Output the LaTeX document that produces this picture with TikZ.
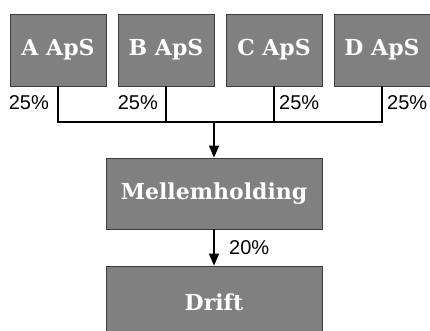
\documentclass[tikz,border=0pt]{standalone}
\usepackage{fontspec}
\newfontfamily\boxfont{DejaVu Serif}
\newfontfamily\labfont{Liberation Sans}
\usetikzlibrary{arrows.meta}
\definecolor{boxgray}{RGB}{128,128,128}
\definecolor{boxedge}{RGB}{60,60,60}
\tikzset{
  entity/.style={draw=boxedge, line width=0.8pt, fill=boxgray, text=white,
    minimum width=96pt, minimum height=72pt, inner sep=0pt,
    font=\boxfont\bfseries\fontsize{22}{26}\selectfont},
  wide/.style={entity, minimum width=216pt},
  link/.style={line width=1.5pt, black},
  pct/.style={inner sep=0pt, font=\labfont\fontsize{20}{24}\selectfont}
}
\begin{document}
\begin{tikzpicture}[x=1pt,y=1pt]
\useasboundingbox (0,0) rectangle (430,-331);
\node[entity] (A) at (58,-50) {A ApS};
\node[entity] (B) at (166,-50) {B ApS};
\node[entity] (C) at (274,-50) {C ApS};
\node[entity] (D) at (382,-50) {D ApS};
\node[wide, minimum height=71pt] (M) at (214,-193.5) {Mellemholding};
\node[wide] (R) at (214,-302) {Drift};
\coordinate (j) at (214,-122);
\draw[link] (A.south) |- (j);
\draw[link] (D.south) |- (j);
\draw[link] (B.south) -- (B.south |- j);
\draw[link] (C.south) -- (C.south |- j);
\draw[link, -{Triangle[length=12pt,width=10pt]}] (j) -- (M.north);
\draw[link, -{Triangle[length=12pt,width=10pt]}] (M.south) -- (R.north);
\node[pct, anchor=east] (la) at (49,-103) {25\%};
\node[pct, anchor=east] (lb) at (158,-103) {25\%};
\node[pct, anchor=west] (lc) at (279,-103) {25\%};
\node[pct, anchor=west] (ld) at (387,-103) {25\%};
\node[pct, anchor=west] (lm) at (229,-248) {20\%};
\end{tikzpicture}
\end{document}
